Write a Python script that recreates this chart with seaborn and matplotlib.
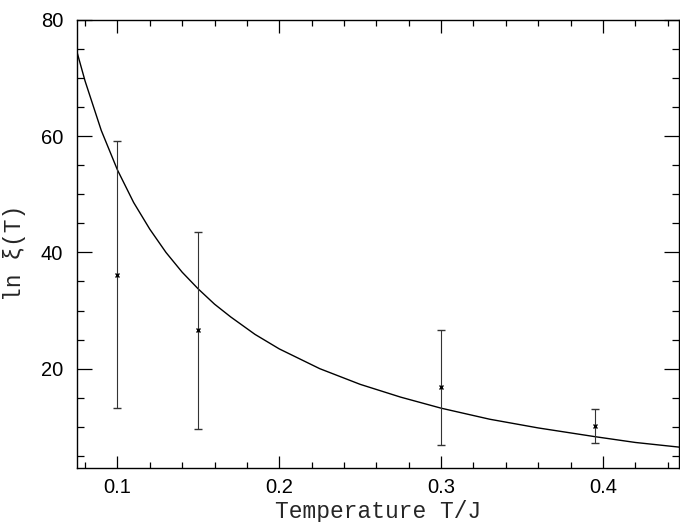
import numpy as np
import pandas as pd
import matplotlib
matplotlib.use("Agg")
import matplotlib.pyplot as plt
import seaborn as sns
from matplotlib.ticker import MultipleLocator

# fitted curve
curve_t = [0.075, 0.08, 0.09, 0.10, 0.11, 0.12, 0.13, 0.14, 0.15, 0.16, 0.17, 0.185,
           0.20, 0.225, 0.25, 0.275, 0.30, 0.33, 0.36, 0.395, 0.42, 0.447]
curve_ln = [74.5, 69.5, 61.0, 54.2, 48.6, 44.0, 40.0, 36.6, 33.7, 31.1, 28.9, 25.9,
            23.4, 20.0, 17.3, 15.1, 13.2, 11.3, 9.8, 8.3, 7.3, 6.5]

# simulation points with error bars
pts_t = [0.10, 0.15, 0.30, 0.395]
pts_ln = [36.1, 26.6, 16.8, 10.2]
err_hi = [59.2, 43.5, 26.7, 13.1]
err_lo = [13.2, 9.6, 6.9, 7.2]

sns.set_style("ticks")
plt.rcParams["font.family"] = ["Liberation Sans", "DejaVu Sans"]

fig = plt.figure(figsize=(6.8, 5.22), dpi=100)
ax = fig.add_axes([0.1132, 0.1034, 0.8853, 0.8583])

curve = pd.DataFrame({"T": curve_t, "ln": curve_ln})
sns.lineplot(data=curve, x="T", y="ln", ax=ax, color="black", lw=1.0,
             sort=False, estimator=None)

pts_ln = np.array(pts_ln)
yerr = [pts_ln - np.array(err_lo), np.array(err_hi) - pts_ln]
ax.errorbar(pts_t, pts_ln, yerr=yerr, fmt="x", color="black", ecolor="#333333",
            elinewidth=0.8, capsize=3, capthick=1.0, markersize=3.5, mew=1.0)

ax.set_xlim(0.075, 0.447)
ax.set_ylim(2.9, 80)
ax.xaxis.set_major_locator(MultipleLocator(0.1))
ax.xaxis.set_minor_locator(MultipleLocator(0.02))
ax.yaxis.set_major_locator(MultipleLocator(20))
ax.yaxis.set_minor_locator(MultipleLocator(5))
ax.set_yticks([20, 40, 60, 80])
ax.set_xticks([0.1, 0.2, 0.3, 0.4])
ax.set_xticklabels(["0.1", "0.2", "0.3", "0.4"])

ax.tick_params(which="both", direction="in", top=True, right=True, width=0.9,
               labelsize=14.5, colors="black")
ax.tick_params(axis="y", which="major", length=11, pad=10)
ax.tick_params(axis="y", which="minor", length=5)
ax.tick_params(axis="x", which="major", length=9, pad=7)
ax.tick_params(axis="x", which="minor", length=4)
for s in ax.spines.values():
    s.set_linewidth(1.0)
    s.set_color("black")

ax.set_xlabel("Temperature T/J", family=["Liberation Mono", "DejaVu Sans"],
              fontsize=16.5, labelpad=2)
ax.set_ylabel("ln ξ(T)", family=["Liberation Mono", "DejaVu Sans"],
              fontsize=16.5)
ax.yaxis.set_label_coords(-0.085, 0.48)

fig.savefig("out.png", dpi=100)
